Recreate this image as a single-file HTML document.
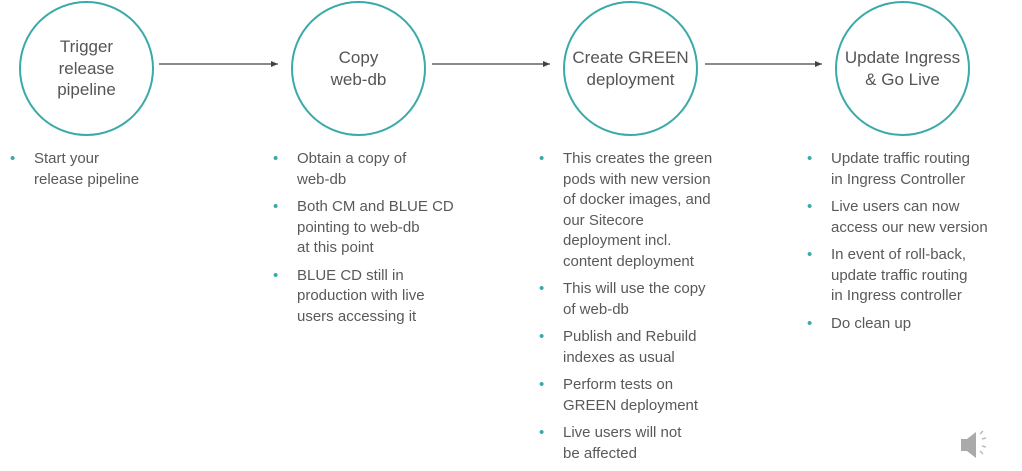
<!DOCTYPE html>
<html><head><style>
body{margin:0;width:1022px;height:471px;background:#fff;position:relative;overflow:hidden;font-family:"Liberation Sans",sans-serif;color:#595959}
.c{position:absolute;width:131px;height:131px;border:2px solid #3aaaa8;border-radius:50%;top:1px;display:flex;align-items:center;justify-content:center;text-align:center;font-size:17px;line-height:21.5px;color:#555}
.col{position:absolute;top:149px;font-size:15px;line-height:20.5px;width:220px}
.col div{position:relative;margin-bottom:7px}
.col div:before{content:"•";color:#3aaaa8;position:absolute;left:-24px;font-size:15px}
</style></head><body>
<div class="c" style="left:19px">Trigger<br>release<br>pipeline</div>
<div class="c" style="left:291px">Copy<br>web-db</div>
<div class="c" style="left:563px">Create GREEN<br>deployment</div>
<div class="c" style="left:835px">Update Ingress<br>&amp; Go Live</div>
<svg width="1022" height="471" style="position:absolute;left:0;top:0">
<defs><marker id="a" markerWidth="8" markerHeight="8" refX="7" refY="4" orient="auto" markerUnits="userSpaceOnUse"><path d="M0,1 L7,4 L0,7z" fill="#444"/></marker></defs>
<g stroke="#444" stroke-width="1.3" marker-end="url(#a)">
<line x1="159" y1="64" x2="278" y2="64"/>
<line x1="432" y1="64" x2="550" y2="64"/>
<line x1="705" y1="64" x2="822" y2="64"/>
</g>
<path d="M961,439 h6 l9,-7 v26 l-9,-7 h-6z" fill="#aaa"/>
<g stroke="#bbb" stroke-width="1.5"><line x1="980" y1="434" x2="983" y2="431"/><line x1="982" y1="439" x2="986" y2="438"/><line x1="982" y1="446" x2="986" y2="447"/><line x1="980" y1="451" x2="983" y2="454"/></g>
</svg>
<div class="col" style="left:34px"><div>Start your<br>release pipeline</div></div>
<div class="col" style="left:297px"><div>Obtain a copy of<br>web-db</div><div>Both CM and BLUE CD<br>pointing to web-db<br>at this point</div><div>BLUE CD still in<br>production with live<br>users accessing it</div></div>
<div class="col" style="left:563px"><div>This creates the green<br>pods with new version<br>of docker images, and<br>our Sitecore<br>deployment incl.<br>content deployment</div><div>This will use the copy<br>of web-db</div><div>Publish and Rebuild<br>indexes as usual</div><div>Perform tests on<br>GREEN deployment</div><div>Live users will not<br>be affected</div></div>
<div class="col" style="left:831px"><div>Update traffic routing<br>in Ingress Controller</div><div>Live users can now<br>access our new version</div><div>In event of roll-back,<br>update traffic routing<br>in Ingress controller</div><div>Do clean up</div></div>
</body></html>
